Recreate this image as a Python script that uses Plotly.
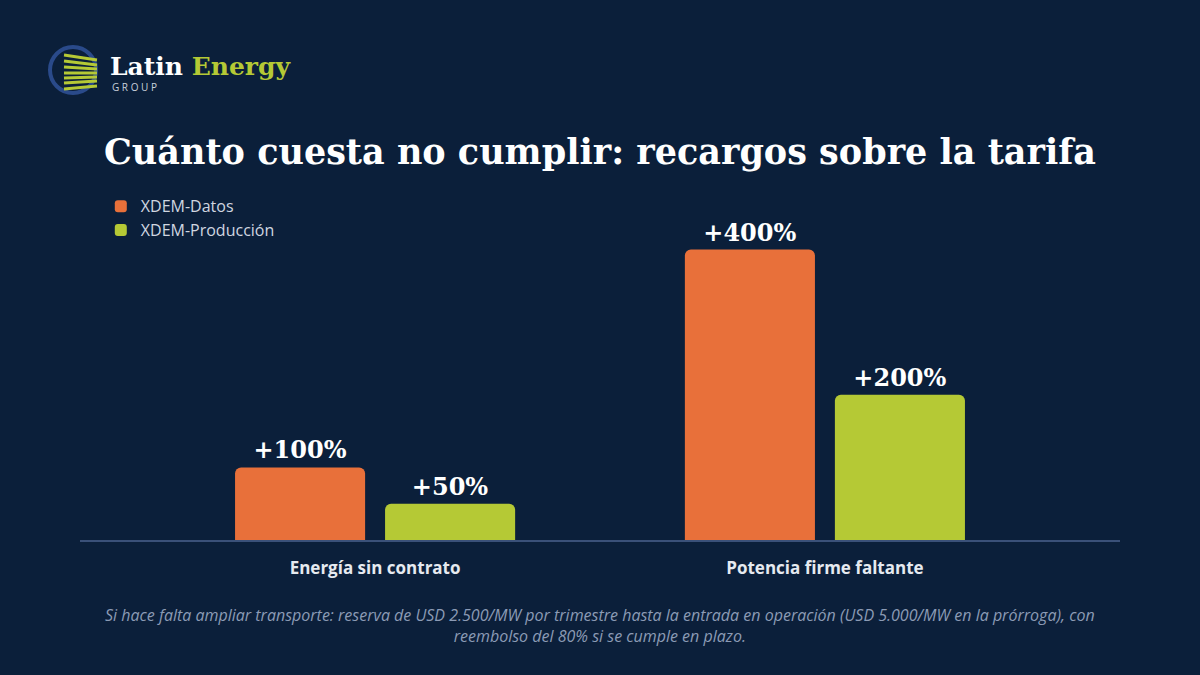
import plotly.graph_objects as go

categories = ["Energía sin contrato", "Potencia firme faltante"]
datos = [100, 400]
produccion = [50, 200]
datos_labels = ["+100%", "+400%"]
prod_labels = ["+50%", "+200%"]

BG = "#0B1F3A"
ORANGE = "#E8703A"
GREEN = "#B5C935"

fig = go.Figure()
fig.add_bar(x=categories, y=datos, name="XDEM-Datos", marker=dict(color=ORANGE, cornerradius=6, line_width=0),
            text=datos_labels, textposition="outside", cliponaxis=False,
            textfont=dict(family="DejaVu Serif", size=24, color="white", weight="bold"))
fig.add_bar(x=categories, y=produccion, name="XDEM-Producción", marker=dict(color=GREEN, cornerradius=6, line_width=0),
            text=prod_labels, textposition="outside", cliponaxis=False,
            textfont=dict(family="DejaVu Serif", size=24, color="white", weight="bold"))

fig.update_layout(
    width=1200, height=675, paper_bgcolor=BG, plot_bgcolor=BG,
    margin=dict(l=80, r=80, t=206, b=135),
    barmode="group", bargap=0.333, bargroupgap=0.133,
    font=dict(family="Open Sans", color="white"),
    title=dict(text="<b>Cuánto cuesta no cumplir: recargos sobre la tarifa</b>", x=0.5, xanchor="center",
               y=1 - 152/675, yanchor="middle", font=dict(family="DejaVu Serif", size=35, color="white")),
    legend=dict(x=0.02, y=1.05, xanchor="left", yanchor="top", bgcolor="rgba(0,0,0,0)",
                font=dict(size=16, color="#D0D6E0", family="Open Sans"), itemsizing="constant",
                tracegroupgap=8),
    showlegend=True,
    xaxis=dict(range=[-0.656, 1.656], showgrid=False, showline=True, linecolor="#3A5078", linewidth=2, ticks="",
               tickfont=dict(size=17, color="#E6EAF0", family="Open Sans", weight="bold"), ticklabelstandoff=12),
    yaxis=dict(range=[0, 460], visible=False),
)

fig.add_annotation(text="<i>Si hace falta ampliar transporte: reserva de USD 2.500/MW por trimestre hasta la entrada en operación (USD 5.000/MW en la prórroga), con<br>reembolso del 80% si se cumple en plazo.</i>",
                   xref="paper", yref="paper", x=0.5, y=-0.185, xanchor="center", yanchor="top",
                   showarrow=False, align="center", font=dict(size=16, color="#8C9BB5", family="Open Sans"))

def px(xp): return (xp-80)/1040
def py(yp): return (540-yp)/334

fig.add_annotation(text="<b>Latin <span style='color:#B5C935'>Energy</span></b>", xref="paper", yref="paper",
                   x=px(108), y=py(66), xanchor="left", yanchor="middle", showarrow=False,
                   font=dict(family="DejaVu Serif", size=25, color="white"))
fig.add_annotation(text="G R O U P", xref="paper", yref="paper",
                   x=px(110), y=py(87), xanchor="left", yanchor="middle", showarrow=False,
                   font=dict(family="Open Sans", size=10, color="#C8D0DC"))
fig.add_shape(type="circle", xref="paper", yref="paper", x0=px(50), x1=px(96), y0=py(93), y1=py(47),
              line=dict(color="#2A4A8A", width=4))
for y0, y1 in [(52, 58), (58, 63), (64, 67), (70, 71), (75, 75), (80, 79), (86, 84)]:
    fig.add_shape(type="line", xref="paper", yref="paper", x0=px(64), x1=px(97), y0=py(y0+3), y1=py(y1+2),
                  line=dict(color=GREEN, width=3))

fig.write_html("out.html", config={"displayModeBar": False},
               post_script="document.body.style.margin='0';document.body.style.background='#0B1F3A';")
